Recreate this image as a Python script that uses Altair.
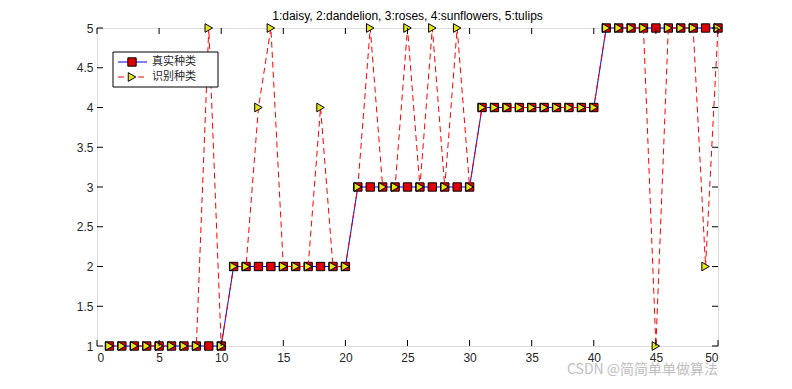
import altair as alt
import pandas as pd

sample = list(range(1, 51))
true_class = [1]*10 + [2]*10 + [3]*10 + [4]*10 + [5]*10
pred_class = [1, 1, 1, 1, 1, 1, 1, 1, 5, 1,
              2, 2, 4, 5, 2, 2, 2, 4, 2, 2,
              3, 5, 3, 3, 5, 3, 5, 3, 5, 3,
              4, 4, 4, 4, 4, 4, 4, 4, 4, 4,
              5, 5, 5, 5, 1, 5, 5, 5, 2, 5]
x_ticks = [0, 5, 10, 15, 20, 25, 30, 35, 40, 45, 50]
y_ticks = [1, 1.5, 2, 2.5, 3, 3.5, 4, 4.5, 5]
title_text = "1:daisy, 2:dandelion, 3:roses, 4:sunflowers, 5:tulips"
legend_labels = ["真实种类", "识别种类"]
watermark = "CSDN @简简单单做算法"

W, H = 621, 318
FONT = "Liberation Sans"

df = pd.DataFrame({"x": sample, "t": true_class, "p": pred_class})

xs = alt.Scale(domain=[0, 50], nice=False, zero=False)
ys = alt.Scale(domain=[1, 5], nice=False, zero=False)

xaxis = alt.Axis(values=x_ticks, tickSize=0, labelPadding=6, domain=False,
                 grid=False, labelFontSize=12, labelColor="#262626", labelFont=FONT,
                 title=None, labelOverlap=False)
yaxis = alt.Axis(values=y_ticks, tickSize=0, labelPadding=4, domain=False,
                 grid=False, labelFontSize=12, labelColor="#262626", labelFont=FONT,
                 title=None, labelExpr="'' + datum.value", labelOverlap=False,
                 labelFlush=False)

X = lambda f: alt.X(f, scale=xs, axis=xaxis)
Y = lambda f: alt.Y(f, scale=ys, axis=yaxis)

base = alt.Chart(df)

true_line = base.mark_line(color="#0000ff", strokeWidth=1).encode(x=X("x:Q"), y=Y("t:Q"))
true_pts = base.mark_point(shape="square", filled=True, fill="#e00000",
                           stroke="black", strokeWidth=1, size=70, opacity=1).encode(
    x=X("x:Q"), y=Y("t:Q"))
pred_line = base.mark_line(color="#ff0000", strokeWidth=1, strokeDash=[6, 4]).encode(
    x=X("x:Q"), y=Y("p:Q"))
pred_pts = base.mark_point(shape="triangle-right", filled=True, fill="#e6e61a",
                           stroke="black", strokeWidth=1, size=75, opacity=1).encode(
    x=X("x:Q"), y=Y("p:Q"))

# inside ticks (MATLAB style) on all four sides
xt = pd.DataFrame({"v": x_ticks})
yt = pd.DataFrame({"v": y_ticks})
tk = dict(color="black", strokeWidth=1)
xb = alt.Chart(xt).mark_rule(**tk).encode(x=X("v:Q"), y=alt.value(H), y2=alt.value(H - 6))
xtp = alt.Chart(xt).mark_rule(**tk).encode(x=X("v:Q"), y=alt.value(0), y2=alt.value(6))
yl = alt.Chart(yt).mark_rule(**tk).encode(y=Y("v:Q"), x=alt.value(0), x2=alt.value(6))
yr = alt.Chart(yt).mark_rule(**tk).encode(y=Y("v:Q"), x=alt.value(W), x2=alt.value(W - 6))

one = pd.DataFrame({"a": [0]})

title = alt.Chart(one).mark_text(text=title_text, align="center", baseline="middle",
                                 font=FONT, fontSize=12, color="black").encode(
    x=alt.value(W / 2), y=alt.value(-12))

# manual legend
lg_box = alt.Chart(one).mark_rect(fill="white", stroke="black", strokeWidth=1).encode(
    x=alt.value(16), x2=alt.value(121), y=alt.value(24), y2=alt.value(59))
lg_l1 = alt.Chart(one).mark_rule(color="#0000ff", strokeWidth=1).encode(
    x=alt.value(21), x2=alt.value(50), y=alt.value(34))
lg_p1 = alt.Chart(one).mark_point(shape="square", filled=True, fill="#e00000",
                                  stroke="black", strokeWidth=1, size=70, opacity=1).encode(
    x=alt.value(35), y=alt.value(34))
lg_l2 = alt.Chart(one).mark_rule(color="#ff0000", strokeWidth=1, strokeDash=[6, 4]).encode(
    x=alt.value(21), x2=alt.value(50), y=alt.value(49))
lg_p2 = alt.Chart(one).mark_point(shape="triangle-right", filled=True, fill="#e6e61a",
                                  stroke="black", strokeWidth=1, size=75, opacity=1).encode(
    x=alt.value(35), y=alt.value(49))
lg_t1 = alt.Chart(one).mark_text(text=legend_labels[0], align="left", baseline="middle",
                                 font="Noto Sans CJK SC", fontSize=11, color="#262626").encode(
    x=alt.value(55), y=alt.value(34))
lg_t2 = alt.Chart(one).mark_text(text=legend_labels[1], align="left", baseline="middle",
                                 font="Noto Sans CJK SC", fontSize=11, color="#262626").encode(
    x=alt.value(55), y=alt.value(49))

wm = alt.Chart(one).mark_text(text=watermark, align="left", baseline="middle",
                              font="Noto Sans CJK SC", fontSize=14, color="#b0b0b0",
                              opacity=0.8).encode(x=alt.value(470), y=alt.value(342))

chart = alt.layer(
    true_line, true_pts, pred_line, pred_pts,
    xb, xtp, yl, yr, title,
    lg_box, lg_l1, lg_p1, lg_l2, lg_p2, lg_t1, lg_t2, wm
).properties(
    width=W, height=H,
    autosize=alt.AutoSizeParams(type="none"),
    padding={"left": 89, "top": 20, "right": 66, "bottom": 35},
).configure_view(stroke="black", strokeWidth=1).configure(background="white")

chart.save("out.html", embed_options={"renderer": "svg", "actions": False})
